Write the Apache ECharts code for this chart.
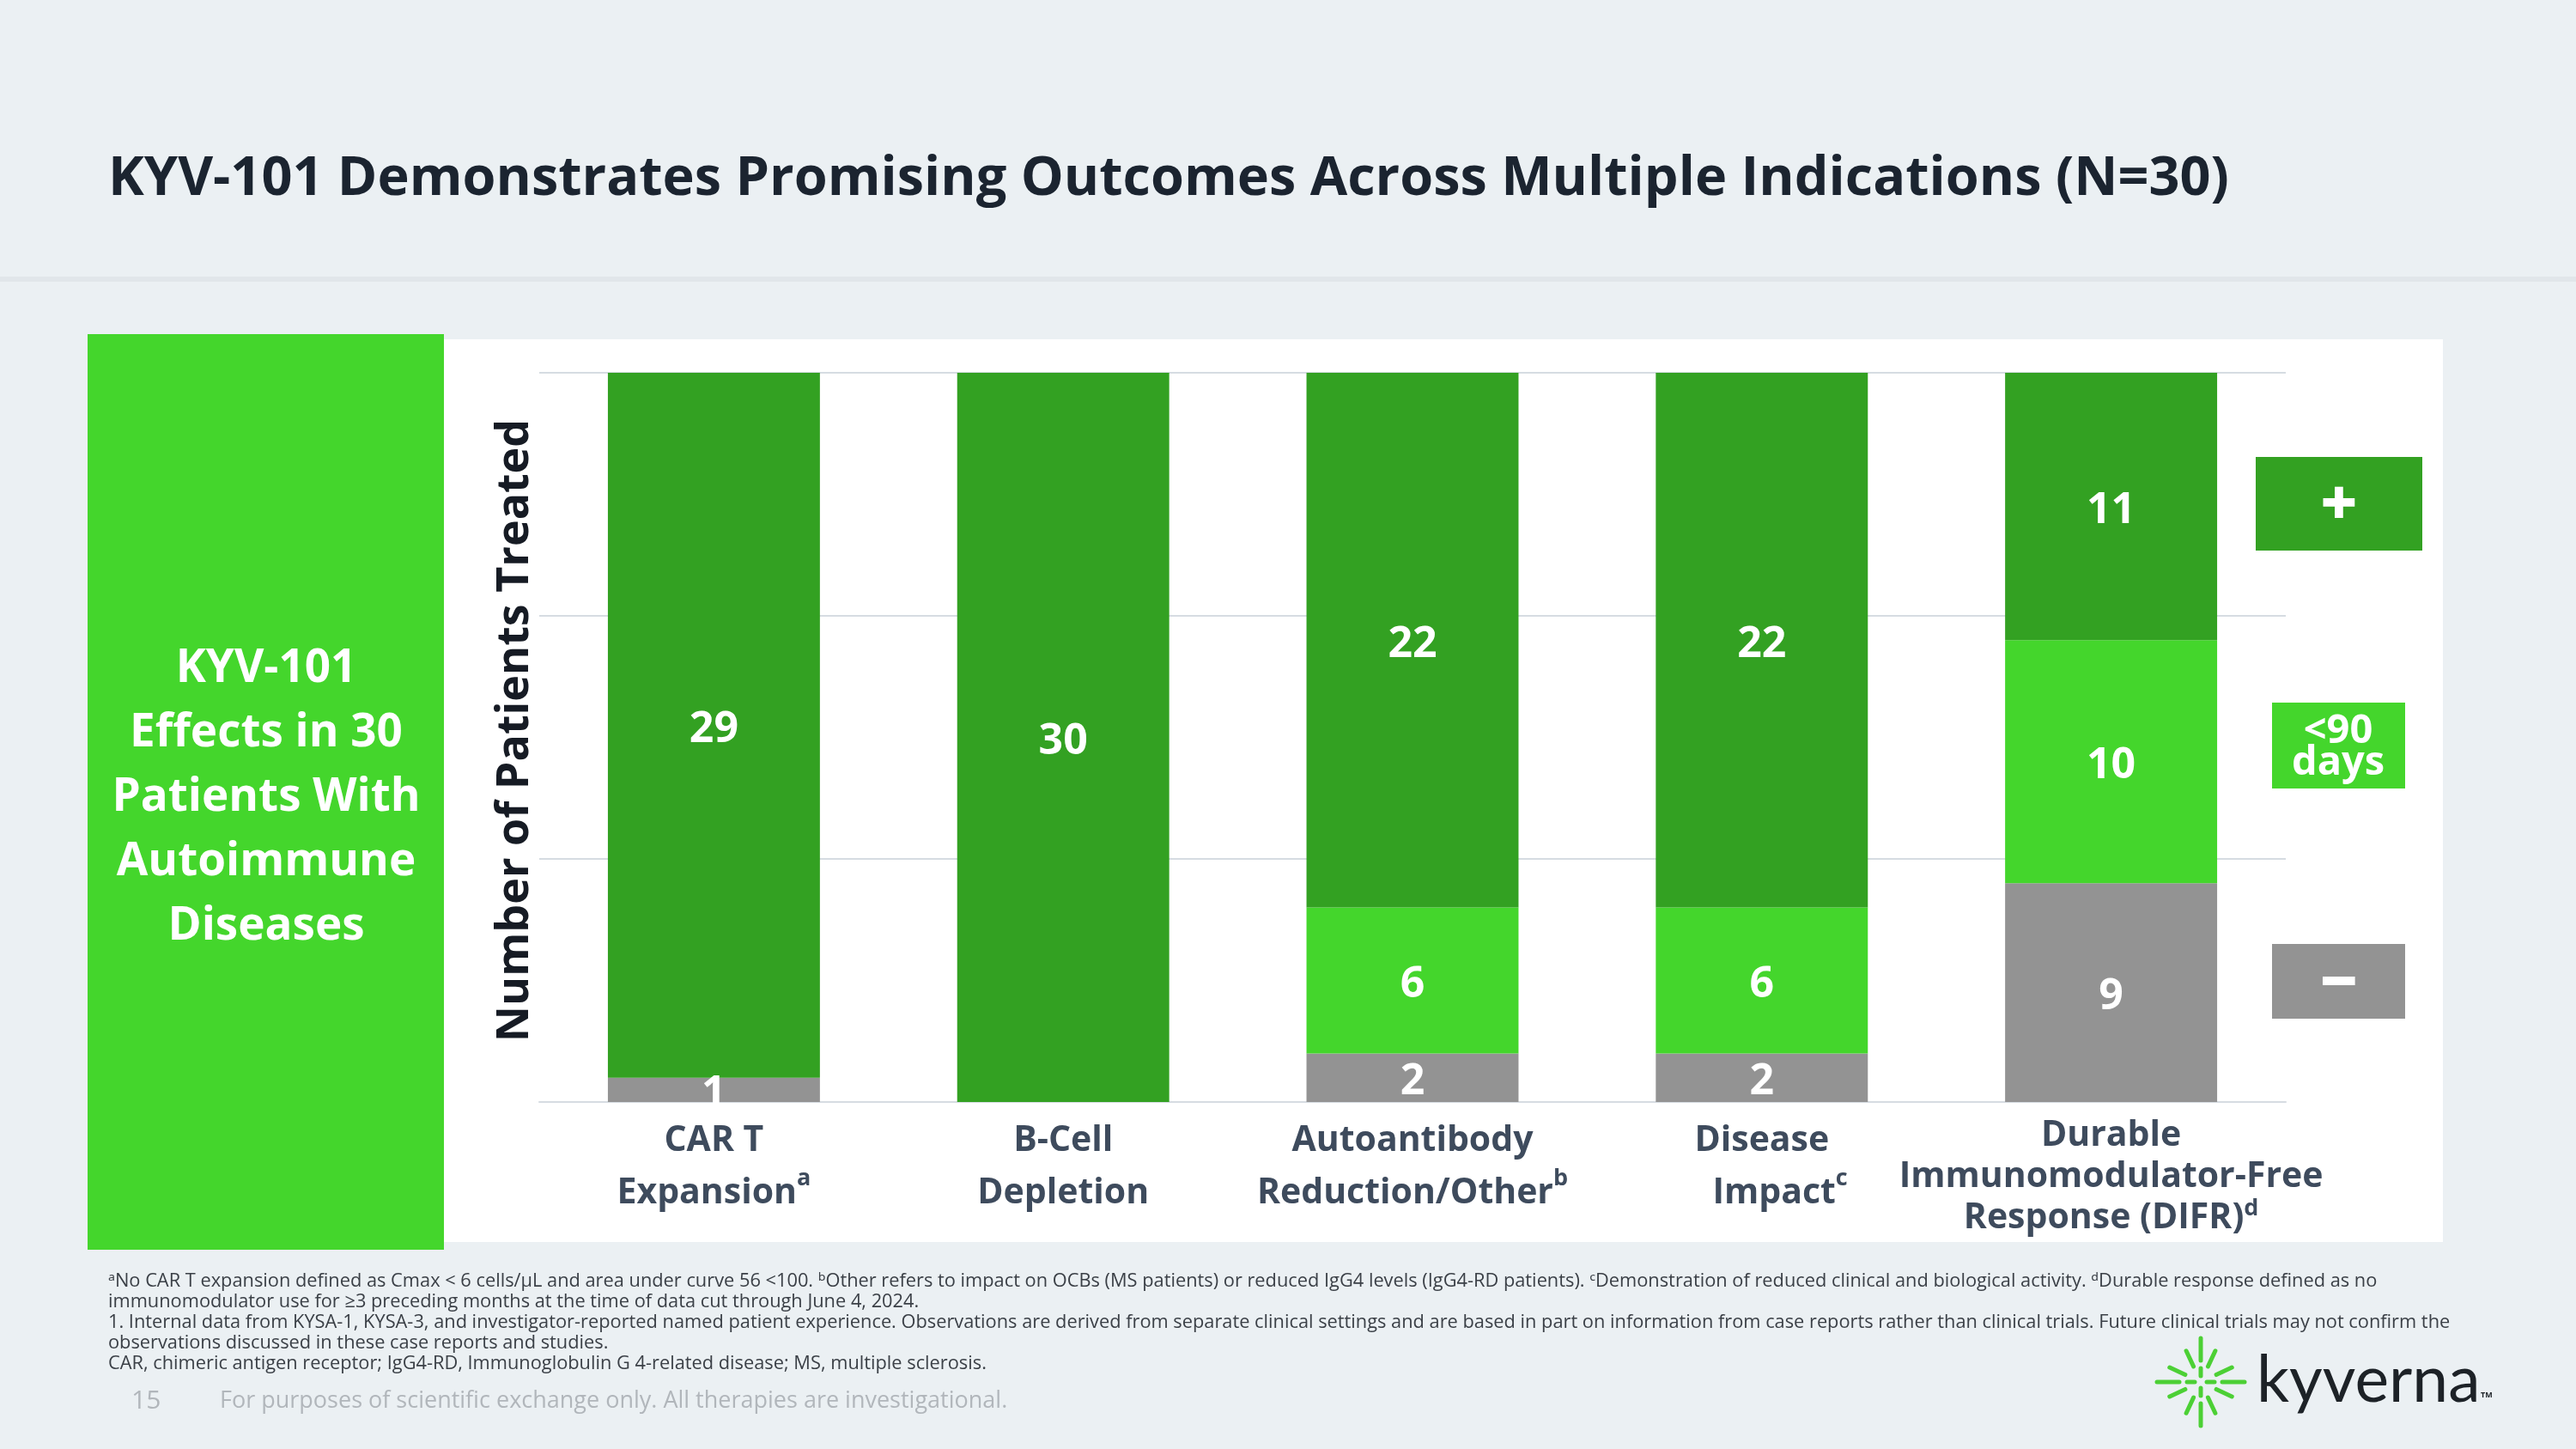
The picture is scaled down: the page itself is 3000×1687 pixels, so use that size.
<!DOCTYPE html>
<html>
<head>
<meta charset="utf-8">
<script src="https://cdn.jsdelivr.net/npm/echarts@6/dist/echarts.min.js"></script>
<style>
  html, body { margin: 0; padding: 0; background: #EBF0F3; }
  #chart { width: 3000px; height: 1687px; }
</style>
</head>
<body>
<div id="chart"></div>
<script>
// ---- Data ----
const categories = ['CAR T\nExpansion', 'B-Cell\nDepletion', 'Autoantibody\nReduction/Other', 'Disease\n    Impact', 'Durable\nImmunomodulator-Free\nResponse (DIFR)'];
const footMarks = ['a', '', 'b', 'c', 'd'];
const negative = [1, 0, 2, 2, 9];      // grey "−"
const under90 = [0, 0, 6, 6, 10];      // light green "<90 days"
const positive = [29, 30, 22, 22, 11]; // dark green "+"
const yMin = 0, yMax = 30, yInterval = 10;

const titleText = 'KYV-101 Demonstrates Promising Outcomes Across Multiple Indications (N=30)';
const sideText = 'KYV-101\nEffects in 30\nPatients With\nAutoimmune\nDiseases';
const yAxisName = 'Number of Patients Treated';
const legendTexts = ['+', '<90\ndays', '−'];
const footnotes = [
  '\u1d43No CAR T expansion defined as Cmax < 6 cells/\u00b5L and area under curve 56 <100. \u1d47Other refers to impact on OCBs (MS patients) or reduced IgG4 levels (IgG4-RD patients). \u1d9cDemonstration of reduced clinical and biological activity. \u1d48Durable response defined as no',
  'immunomodulator use for \u22653 preceding months at the time of data cut through June 4, 2024.',
  '1. Internal data from KYSA-1, KYSA-3, and investigator-reported named patient experience. Observations are derived from separate clinical settings and are based in part on information from case reports rather than clinical trials. Future clinical trials may not confirm the',
  'observations discussed in these case reports and studies.',
  'CAR, chimeric antigen receptor; IgG4-RD, Immunoglobulin G 4-related disease; MS, multiple sclerosis.'
];
const pageNum = '15';
const disclaimer = 'For purposes of scientific exchange only. All therapies are investigational.';

// ---- Styles ----
const FONT = '"Open Sans", "Noto Sans", sans-serif';
const DARK_GREEN = '#33A122';
const LIGHT_GREEN = '#44D62C';
const GREY = '#939393';
const LABEL_COLOR = '#3E4B5D';

const chart = echarts.init(document.getElementById('chart'), null, { renderer: 'canvas' });

const labelFmt = p => (p.value ? String(p.value) : '');
const barLabel = { show: true, position: 'inside', offset: [0, 5], color: '#FFFFFF', fontFamily: FONT, fontWeight: 'bold', fontSize: 50, formatter: labelFmt };

const graphics = [];
// header separator
graphics.push({ type: 'rect', z: -100, shape: { x: 0, y: 322, width: 3000, height: 6 }, style: { fill: '#E1E6EA' } });
// white chart panel
graphics.push({ type: 'rect', z: -100, shape: { x: 517, y: 395, width: 2328, height: 1051 }, style: { fill: '#FFFFFF' } });
// green side box
graphics.push({ type: 'rect', z: -99, shape: { x: 102, y: 389, width: 415, height: 1066 }, style: { fill: LIGHT_GREEN } });
graphics.push({ type: 'text', z: 10, x: 310, y: 929, style: { text: sideText, fill: '#FFFFFF', font: 'bold 53px ' + FONT, align: 'center', verticalAlign: 'middle', lineHeight: 75 } });
// title
graphics.push({ type: 'text', z: 10, x: 126, y: 209, style: { text: titleText, fill: '#1B2430', font: 'bold 63px ' + FONT, align: 'left', verticalAlign: 'middle' } });
// legend boxes
graphics.push({ type: 'rect', z: 5, shape: { x: 2627, y: 532, width: 194, height: 109 }, style: { fill: DARK_GREEN } });
graphics.push({ type: 'text', z: 10, x: 2724, y: 590, style: { text: legendTexts[0], fill: '#FFFFFF', font: '900 74px ' + FONT, align: 'center', verticalAlign: 'middle' } });
graphics.push({ type: 'rect', z: 5, shape: { x: 2646, y: 818, width: 155, height: 100 }, style: { fill: LIGHT_GREEN } });
graphics.push({ type: 'text', z: 10, x: 2723, y: 870, style: { text: legendTexts[1], fill: '#FFFFFF', font: 'bold 47px ' + FONT, align: 'center', verticalAlign: 'middle', lineHeight: 37 } });
graphics.push({ type: 'rect', z: 5, shape: { x: 2646, y: 1099, width: 155, height: 87 }, style: { fill: GREY } });
graphics.push({ type: 'text', z: 10, x: 2724, y: 1147, style: { text: legendTexts[2], fill: '#FFFFFF', font: '900 76px ' + FONT, align: 'center', verticalAlign: 'middle' } });
// footnotes
footnotes.forEach((t, i) => {
  graphics.push({ type: 'text', z: 10, x: 126, y: 1492 + i * 24, style: { text: t, fill: '#3B4047', font: '21.8px ' + FONT, align: 'left', verticalAlign: 'middle' } });
});
graphics.push({ type: 'text', z: 10, x: 153, y: 1631, style: { text: pageNum, fill: '#B1B6BB', font: '30px ' + FONT, align: 'left', verticalAlign: 'middle' } });
graphics.push({ type: 'text', z: 10, x: 256, y: 1631, style: { text: disclaimer, fill: '#B1B6BB', font: '27px ' + FONT, align: 'left', verticalAlign: 'middle' } });
// logo starburst
const cx = 2563, cy = 1609;
const ray = (deg, r1, r2) => {
  const a = deg * Math.PI / 180;
  graphics.push({ type: 'line', z: 10, shape: { x1: cx + r1 * Math.cos(a), y1: cy - r1 * Math.sin(a), x2: cx + r2 * Math.cos(a), y2: cy - r2 * Math.sin(a) }, style: { stroke: '#4CD035', lineWidth: 5, lineCap: 'round' } });
};
[0, 90, 180, 270].forEach(d => { ray(d, 25, 51); ray(d, 7, 16); });
[25, 65, 115, 155, 205, 245, 295, 335].forEach(d => ray(d, 20, 40));
graphics.push({ type: 'text', z: 10, x: 2628, y: 1608, style: { text: 'kyverna', fill: '#1D2227', font: '75px Lato, ' + FONT, align: 'left', verticalAlign: 'middle' } });
graphics.push({ type: 'text', z: 10, x: 2889, y: 1624, style: { text: 'TM', fill: '#1D2227', font: 'bold 9px ' + FONT, align: 'left', verticalAlign: 'middle' } });

const supStyle = (lh) => ({ fontFamily: FONT, fontWeight: 'bold', fontSize: 27, color: LABEL_COLOR, lineHeight: lh, verticalAlign: 'top' });
const option = {
  backgroundColor: '#EBF0F3',
  animation: false,
  grid: { left: 628, right: 338, top: 434, bottom: 404, containLabel: false },
  xAxis: {
    type: 'category',
    data: categories,
    axisLine: { show: true, lineStyle: { color: '#D6DCE2', width: 2 } },
    axisTick: { show: false },
    axisLabel: {
      interval: 0,
      margin: 15,
      formatter: (val, idx) => {
        const st = idx === 4 ? 't' : 'n';
        const lines = val.split('\n');
        return lines.map((l, i) => '{' + st + '|' + l + '}' + (i === lines.length - 1 && footMarks[idx] ? '{' + st + 's|' + footMarks[idx] + '}' : '')).join('\n');
      },
      rich: {
        n: { fontFamily: FONT, fontWeight: 'bold', fontSize: 41, color: LABEL_COLOR, lineHeight: 61 },
        t: { fontFamily: FONT, fontWeight: 'bold', fontSize: 41, color: LABEL_COLOR, lineHeight: 48 },
        ns: supStyle(44),
        ts: supStyle(32)
      }
    }
  },
  yAxis: {
    type: 'value',
    min: yMin, max: yMax, interval: yInterval,
    name: yAxisName,
    nameLocation: 'middle',
    nameRotate: 90,
    nameGap: 2,
    nameTextStyle: { fontFamily: FONT, fontWeight: 'bold', fontSize: 52, color: '#161B24', padding: [0, 0, 0, 16] },
    axisLine: { show: false },
    axisTick: { show: false },
    axisLabel: { show: false },
    splitLine: { show: true, lineStyle: { color: '#D6DCE2', width: 2 } }
  },
  series: [
    { name: '−', type: 'bar', stack: 'total', barWidth: '60.7%', data: negative, itemStyle: { color: GREY }, label: barLabel },
    { name: '<90 days', type: 'bar', stack: 'total', data: under90, itemStyle: { color: LIGHT_GREEN }, label: barLabel },
    { name: '+', type: 'bar', stack: 'total', data: positive, itemStyle: { color: DARK_GREEN }, label: barLabel }
  ],
  graphic: { elements: graphics }
};
chart.setOption(option);
</script>
</body>
</html>
